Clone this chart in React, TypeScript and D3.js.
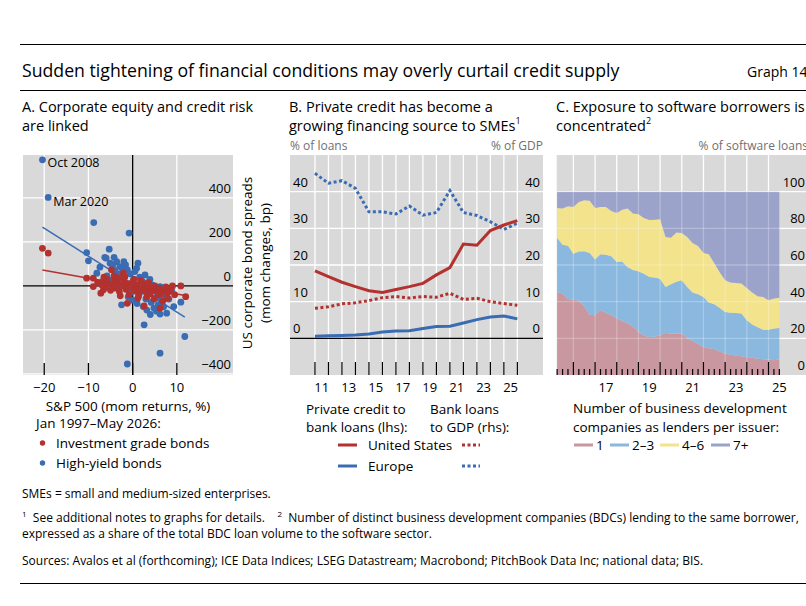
import React from 'react';
import * as d3 from 'd3';

const FONT = "'Open Sans', 'Noto Sans', sans-serif";
const RED = '#b3312e';
const BLUE = '#3a6cb4';
const BG = '#d9d9d9';

// ---- Panel A: S&P 500 returns (%) vs spread changes (bp)
const hyPoints: [number, number][] = [
  [-20.4, 573], [-19.1, 402], [-8.8, 288], [-0.8, 240], [11.8, -230], [6.2, -306], [-1.2, -355],
  [2.6, -177], [10.9, -74], [-10.4, 151], [-10.0, 114], [-5.3, 167], [-6.3, 130], [-6.0, 126],
  [-5.1, 103], [-2.9, 88], [0.9, 80], [1.2, 103], [-1.2, 73], [-7.4, 85], [-8.1, 58], [-2.5, -86],
  [2.4, -94], [7.7, -124], [6.2, -128], [4.8, -101], [9.3, -94], [7.2, -48], [8.8, -21], [6.2, -3],
  [-4.5, 95], [-4.0, 70], [-3.6, 110], [-3.0, 55], [-2.2, 75], [-1.8, 40], [-0.6, 55], [0.2, 30],
  [0.5, 65], [1.6, 40], [2.2, 20], [2.8, 50], [3.4, 10], [3.9, 30], [-5.8, 45], [-4.9, 25],
  [-3.8, 15], [-2.6, 5], [-1.4, -15], [-0.4, -30], [0.6, -10], [1.4, -45], [2.0, -25], [3.0, -60],
  [3.6, -35], [4.2, -75], [4.6, -20], [5.2, -55], [5.8, -85], [6.6, -65], [7.0, -95], [8.2, -60],
  [0.0, -65], [-1.0, -50], [1.0, -80], [3.2, -110], [4.0, -130], [5.4, -115], [-3.4, -10],
  [-6.8, 20], [-2.0, 110], [4.4, 5], [5.6, -30], [2.6, -5], [-0.2, 10], [-4.2, 130], [-1.6, 95],
];
const igPoints: [number, number][] = [
  [-20.4, 171], [-19.1, 149], [10.9, 0], [12.0, -49], [-1.2, -79], [6.2, -101], [-7.2, -33],
  [-8.9, -3], [-10.4, 35], [-8.9, 35], [-6.6, -18], [-4.8, 73], [-2.1, 58], [2.6, -91], [7.9, -56],
  [9.0, 0], [5.8, -41], [0.9, -26], [-4.0, 27], [-6.3, 20], [-7.9, 15], [-7.0, 5], [-6.0, -5],
  [-5.5, 10], [-5.0, -20], [-4.5, 5], [-4.0, -10], [-3.5, 15], [-3.0, -25], [-2.5, 0], [-2.0, 20],
  [-1.5, -15], [-1.0, 10], [-0.5, -5], [0.0, 15], [0.5, -20], [1.0, 5], [1.5, -30], [2.0, -10],
  [2.5, 10], [3.0, -25], [3.5, -5], [4.0, -35], [4.5, -15], [5.0, 0], [5.5, -25], [6.0, -10],
  [6.5, -35], [7.0, -20], [7.5, -5], [8.0, -30], [8.5, -15], [-3.2, 35], [-1.8, 40], [0.3, 30],
  [1.8, 25], [3.6, 15], [-5.8, 30], [-0.8, -40], [1.2, -55], [3.2, -50], [4.8, -60], [6.8, -70],
  [-2.8, -45], [9.5, -40], [-6.5, 40], [-4.2, 45],
];
// fitted lines: intercept, slope, x range
const hyFit = [8, -12.7, -20.4, 11.8];
const igFit = [-1, -3.6, -20.4, 12.2];
const aTicksX = [-20, -10, 0, 10];
const aTicksY = [-400, -200, 0, 200, 400];

// ---- Panel B
const bYears = [2011, 2012, 2013, 2014, 2015, 2016, 2017, 2018, 2019, 2020, 2021, 2022, 2023, 2024, 2025, 2026];
const usPrivate = [18.4, 16.8, 15.3, 14.1, 13.0, 12.5, 13.3, 14.1, 15.0, 17.3, 19.3, 25.7, 25.4, 29.4, 30.9, 32.1];
const euPrivate = [0.6, 0.7, 0.8, 0.9, 1.2, 1.7, 2.0, 2.1, 2.7, 3.2, 3.3, 4.2, 5.1, 5.8, 6.1, 5.3];
const usBankGdp = [8.2, 8.6, 9.4, 9.7, 10.3, 11.1, 11.4, 11.0, 11.4, 11.2, 12.3, 10.6, 10.9, 10.0, 9.5, 9.0];
const euBankGdp = [45.0, 42.3, 43.0, 40.9, 34.5, 34.5, 33.9, 36.1, 33.6, 34.3, 40.3, 34.3, 33.5, 31.8, 29.7, 31.4];
const bTicksY = [0, 10, 20, 30, 40];
const bLabelYears = [2011, 2013, 2015, 2017, 2019, 2021, 2023, 2025];

// ---- Panel C (quarterly, % of software loans)
const cQuarters = [
  '2015Q2', '2015Q3', '2015Q4', '2016Q1', '2016Q2', '2016Q3', '2016Q4', '2017Q1', '2017Q2', '2017Q3',
  '2017Q4', '2018Q1', '2018Q2', '2018Q3', '2018Q4', '2019Q1', '2019Q2', '2019Q3', '2019Q4', '2020Q1',
  '2020Q2', '2020Q3', '2020Q4', '2021Q1', '2021Q2', '2021Q3', '2021Q4', '2022Q1', '2022Q2', '2022Q3',
  '2022Q4', '2023Q1', '2023Q2', '2023Q3', '2023Q4', '2024Q1', '2024Q2', '2024Q3', '2024Q4', '2025Q1',
  '2025Q2', '2025Q3',
];
const lenders1 = [45.3, 44.4, 41.5, 41.0, 40.5, 37.5, 32.8, 32.6, 35.3, 34.0, 32.6, 31.0, 29.5, 28.2, 26.5, 23.5, 21.5, 20.7, 20.9, 21.7, 22.9, 22.7, 22.6, 22.6, 20.0, 18.5, 17.0, 15.3, 14.6, 14.2, 12.8, 11.7, 11.0, 10.7, 10.2, 9.8, 9.4, 8.9, 8.6, 8.4, 8.0, 8.4];
const lenders23 = [29.6, 26.6, 29.0, 25.2, 26.8, 30.0, 33.7, 30.5, 30.5, 31.6, 32.2, 30.6, 32.4, 30.6, 30.8, 33.1, 33.7, 32.8, 32.3, 30.8, 25.1, 26.8, 28.2, 29.1, 28.0, 26.5, 27.0, 27.3, 24.9, 24.4, 23.7, 22.7, 22.9, 23.1, 23.3, 20.0, 18.2, 17.1, 16.1, 16.3, 17.3, 17.2];
const lenders46 = [16.2, 19.8, 21.5, 25.5, 27.1, 27.8, 28.5, 28.0, 25.9, 26.0, 24.6, 26.8, 28.2, 32.0, 30.8, 31.1, 30.4, 31.0, 31.5, 32.5, 27.3, 25.4, 26.9, 25.8, 27.3, 27.0, 26.4, 24.0, 26.3, 22.4, 19.5, 17.3, 16.5, 16.4, 16.4, 17.7, 17.4, 16.9, 17.9, 16.1, 16.4, 16.6];
const lenders7 = [8.9, 9.2, 8.0, 8.3, 5.6, 4.7, 5.0, 8.9, 8.3, 8.4, 10.6, 11.6, 9.9, 9.2, 11.9, 12.3, 14.4, 15.5, 15.3, 15.0, 24.7, 25.1, 22.3, 22.5, 24.7, 28.0, 29.6, 33.4, 34.2, 39.0, 44.0, 48.3, 49.6, 49.8, 50.1, 52.5, 55.0, 57.1, 57.4, 59.2, 58.3, 57.8];
const cKeys = ['1', '2–3', '4–6', '7+'];
const cColors = ['#c8979f', '#8bb8de', '#f2e38c', '#9ca3cb'];
const cTicksY = [0, 20, 40, 60, 80, 100];
const cGridYears = [2016, 2017, 2018, 2019, 2020, 2021, 2022, 2023, 2024, 2025];
const cLabelYears = [2017, 2019, 2021, 2023, 2025];

const T = (props: any) => (
  <text fontFamily={FONT} dominantBaseline="central" fill="#000" style={{ whiteSpace: 'pre' }} {...props} />
);

export default function App() {
  // Panel A scales
  const xA = d3.scaleLinear().domain([-24.8, 22.7]).range([23, 233]);
  const yA = d3.scaleLinear().domain([-405, 595]).range([375, 155]);
  // Panel B scales
  const xB = d3.scaleLinear().domain([2009.15, 2027.9]).range([290, 543]);
  const yB = d3.scaleLinear().domain([-10, 50]).range([375, 155]);
  const lineB = (vals: number[]) =>
    d3.line<number>().x((_, i) => xB(bYears[i])).y((d) => yB(d))(vals) || '';
  // Panel C scales
  const qTime = (q: string) => +q.slice(0, 4) + (+q.slice(5) - 1) * 0.25;
  const xC = d3.scaleLinear().domain([2015.23, 2026.73]).range([556.7, 806]);
  const yC = d3.scaleLinear().domain([0, 120]).range([375, 155]);
  const rows = cQuarters.map((q, i) => ({
    t: qTime(q), '1': lenders1[i], '2–3': lenders23[i], '4–6': lenders46[i], '7+': lenders7[i],
  }));
  const stacked = d3.stack<any>().keys(cKeys)(rows);
  const areaC = d3.area<any>().x((d) => xC(d.data.t)).y0((d) => yC(d[0])).y1((d) => yC(d[1]));
  const cEnd = xC(qTime(cQuarters[cQuarters.length - 1]));
  const cQuarterTicks = cQuarters.map(qTime);

  const fitLine = (f: number[]) => (
    [f[2], f[3]].map((v) => [xA(v), yA(f[0] + f[1] * v)])
  );
  const hyL = fitLine(hyFit);
  const igL = fitLine(igFit);

  return (
    <svg width={806} height={606} style={{ position: 'absolute', left: 0, top: 0, background: '#fff' }}>
      {/* header */}
      <line x1={20} x2={806} y1={44.5} y2={44.5} stroke="#000" strokeWidth={1} />
      <T x={22} y={70} fontSize={17.7}>Sudden tightening of financial conditions may overly curtail credit supply</T>
      <T x={747} y={71} fontSize={14}>Graph 14</T>
      <line x1={20} x2={806} y1={90.5} y2={90.5} stroke="#000" strokeWidth={1} />

      {/* Panel titles */}
      <T x={22} y={106} fontSize={14.5}>A. Corporate equity and credit risk</T>
      <T x={22} y={125} fontSize={14.5}>are linked</T>
      <T x={289} y={106} fontSize={14.5}>B. Private credit has become a</T>
      <T x={289} y={125} fontSize={14.5}>growing financing source to SMEs<tspan fontSize={9} dy={-5}>1</tspan></T>
      <T x={556} y={106} fontSize={14.5}>C. Exposure to software borrowers is</T>
      <T x={556} y={125} fontSize={14.5}>concentrated<tspan fontSize={9} dy={-5}>2</tspan></T>

      {/* ===== Panel A ===== */}
      <rect x={23} y={155} width={210} height={220} fill={BG} />
      {aTicksY.filter((v) => v !== 0).map((v) => (
        <line key={v} x1={23} x2={233} y1={yA(v)} y2={yA(v)} stroke="#fff" strokeWidth={1.3} />
      ))}
      {aTicksX.filter((v) => v !== 0).map((v) => (
        <line key={v} x1={xA(v)} x2={xA(v)} y1={155} y2={375} stroke="#fff" strokeWidth={1.3} />
      ))}
      {aTicksY.map((v) => (
        <T key={v} x={231} y={yA(v) - 10} fontSize={13}>{v < 0 ? `−${-v}` : v}</T>
      )).map((el) => React.cloneElement(el, { textAnchor: 'end' }))}
      <line x1={23} x2={233} y1={yA(0)} y2={yA(0)} stroke="#000" strokeWidth={1.3} />
      <line x1={xA(0)} x2={xA(0)} y1={155} y2={375} stroke="#000" strokeWidth={1.3} />
      {aTicksX.map((v) => (
        <line key={v} x1={xA(v)} x2={xA(v)} y1={363} y2={375} stroke="#000" strokeWidth={1.3} />
      ))}
      {hyPoints.map((p, i) => (
        <circle key={i} cx={xA(p[0])} cy={yA(p[1])} r={3.4} fill={BLUE} />
      ))}
      <line x1={hyL[0][0]} y1={hyL[0][1]} x2={hyL[1][0]} y2={hyL[1][1]} stroke={BLUE} strokeWidth={1.5} />
      {igPoints.map((p, i) => (
        <circle key={i} cx={xA(p[0])} cy={yA(p[1])} r={3.4} fill={RED} />
      ))}
      <line x1={igL[0][0]} y1={igL[0][1]} x2={igL[1][0]} y2={igL[1][1]} stroke={RED} strokeWidth={1.5} />
      <T x={xA(-20.4) + 5} y={yA(573) + 3} fontSize={12.5}>Oct 2008</T>
      <T x={xA(-19.1) + 5} y={yA(402) + 4} fontSize={12.5}>Mar 2020</T>
      {aTicksX.map((v) => (
        <T key={v} x={xA(v)} y={387} fontSize={13} textAnchor="middle">{v < 0 ? `−${-v}` : v}</T>
      ))}
      <T x={128} y={406} fontSize={13.5} textAnchor="middle">S&amp;P 500 (mom returns, %)</T>
      <g transform="translate(247,263) rotate(-90)">
        <T x={0} y={0} fontSize={13.5} textAnchor="middle">US corporate bond spreads</T>
        <T x={0} y={18} fontSize={13.5} textAnchor="middle">(mom changes, bp)</T>
      </g>
      <T x={36} y={423} fontSize={13.5}>Jan 1997–May 2026:</T>
      <circle cx={42.5} cy={443} r={2.7} fill={RED} />
      <T x={56} y={443} fontSize={13.5}>Investment grade bonds</T>
      <circle cx={42.5} cy={463} r={2.7} fill={BLUE} />
      <T x={56} y={463} fontSize={13.5}>High-yield bonds</T>

      {/* ===== Panel B ===== */}
      <rect x={290} y={155} width={253} height={220} fill={BG} />
      {bTicksY.filter((v) => v !== 0).map((v) => (
        <line key={v} x1={290} x2={543} y1={yB(v)} y2={yB(v)} stroke="#fff" strokeWidth={1.3} />
      ))}
      {bYears.map((yr) => (
        <line key={yr} x1={xB(yr)} x2={xB(yr)} y1={155} y2={375} stroke="#fff" strokeWidth={1.3} />
      ))}
      {bYears.map((yr) => (
        <line key={yr} x1={xB(yr)} x2={xB(yr)} y1={362} y2={375} stroke="#000" strokeWidth={1.2} />
      ))}
      <line x1={290} x2={543} y1={yB(0)} y2={yB(0)} stroke="#000" strokeWidth={1.3} />
      {bTicksY.map((v) => (
        <g key={v}>
          <T x={293} y={yB(v) - 10} fontSize={13}>{v}</T>
          <T x={540} y={yB(v) - 10} fontSize={13} textAnchor="end">{v}</T>
        </g>
      ))}
      <T x={290} y={145} fontSize={12} fill="#707070">% of loans</T>
      <T x={543} y={145} fontSize={12} fill="#707070" textAnchor="end">% of GDP</T>
      <path d={lineB(euBankGdp)} fill="none" stroke={BLUE} strokeWidth={3} strokeDasharray="3,2.5" />
      <path d={lineB(usBankGdp)} fill="none" stroke={RED} strokeWidth={3} strokeDasharray="3,2.5" />
      <path d={lineB(euPrivate)} fill="none" stroke={BLUE} strokeWidth={3} />
      <path d={lineB(usPrivate)} fill="none" stroke={RED} strokeWidth={3} />
      {bLabelYears.map((yr) => (
        <T key={yr} x={xB(yr + 0.5)} y={387} fontSize={13} textAnchor="middle">{String(yr).slice(2)}</T>
      ))}
      <T x={306} y={409} fontSize={13.5}>Private credit to</T>
      <T x={306} y={427} fontSize={13.5}>bank loans (lhs):</T>
      <T x={430} y={409} fontSize={13.5}>Bank loans</T>
      <T x={430} y={427} fontSize={13.5}>to GDP (rhs):</T>
      <line x1={338} x2={357} y1={445} y2={445} stroke={RED} strokeWidth={3} />
      <T x={368} y={445} fontSize={13.5}>United States</T>
      <line x1={462} x2={480} y1={445} y2={445} stroke={RED} strokeWidth={3} strokeDasharray="3,2.5" />
      <line x1={338} x2={357} y1={466} y2={466} stroke={BLUE} strokeWidth={3} />
      <T x={368} y={466} fontSize={13.5}>Europe</T>
      <line x1={462} x2={480} y1={466} y2={466} stroke={BLUE} strokeWidth={3} strokeDasharray="3,2.5" />

      {/* ===== Panel C ===== */}
      <rect x={556.7} y={155} width={260} height={220} fill={BG} />
      {cTicksY.filter((v) => v !== 0).map((v) => (
        <line key={v} x1={556.7} x2={806} y1={yC(v)} y2={yC(v)} stroke="#fff" strokeWidth={1.3} />
      ))}
      {cGridYears.map((yr) => (
        <line key={yr} x1={xC(yr)} x2={xC(yr)} y1={155} y2={375} stroke="#fff" strokeWidth={1.3} />
      ))}
      {stacked.map((s, i) => (
        <path key={s.key} d={areaC(s) || ''} fill={cColors[i]} />
      ))}
      {cTicksY.filter((v) => v !== 0).map((v) => (
        <line key={v} x1={556.7} x2={cEnd} y1={yC(v)} y2={yC(v)} stroke="#fff" strokeWidth={1.3} opacity={0.25} />
      ))}
      {cGridYears.map((yr) => (
        <line key={yr} x1={xC(yr)} x2={xC(yr)} y1={yC(100)} y2={375} stroke="#fff" strokeWidth={1.3} opacity={0.25} />
      ))}
      {cQuarterTicks.map((t) => (
        <line key={t} x1={xC(t)} x2={xC(t)} y1={Number.isInteger(t) ? 362 : 369} y2={375} stroke="#000" strokeWidth={1.2} />
      ))}
      {cTicksY.map((v) => (
        <T key={v} x={805} y={yC(v) - 10} fontSize={13} textAnchor="end">{v}</T>
      ))}
      <T x={808} y={145} fontSize={12} fill="#707070" textAnchor="end">% of software loans</T>
      {cLabelYears.map((yr) => (
        <T key={yr} x={xC(yr + 0.5)} y={387} fontSize={13} textAnchor="middle">{String(yr).slice(2)}</T>
      ))}
      <T x={573} y={408} fontSize={13.5}>Number of business development</T>
      <T x={573} y={427} fontSize={13.5}>companies as lenders per issuer:</T>
      {cKeys.map((k, i) => {
        const lx = [574, 610, 660, 711][i];
        return (
          <g key={k}>
            <line x1={lx} x2={lx + 19} y1={445} y2={445} stroke={cColors[i]} strokeWidth={3} />
            <T x={lx + 22} y={445} fontSize={13.5}>{k}</T>
          </g>
        );
      })}

      {/* footnotes */}
      <T x={22} y={493} fontSize={12}>SMEs = small and medium-sized enterprises.</T>
      <T x={22} y={517} fontSize={12}>
        <tspan fontSize={8} dy={-4}>1</tspan>
        <tspan dy={4}>{'  See additional notes to graphs for details.    '}</tspan>
        <tspan fontSize={8} dy={-4}>2</tspan>
        <tspan dy={4}>{'  Number of distinct business development companies (BDCs) lending to the same borrower,'}</tspan>
      </T>
      <T x={22} y={533} fontSize={12}>expressed as a share of the total BDC loan volume to the software sector.</T>
      <T x={22} y={560} fontSize={12}>Sources: Avalos et al (forthcoming); ICE Data Indices; LSEG Datastream; Macrobond; PitchBook Data Inc; national data; BIS.</T>
      <line x1={20} x2={806} y1={583.5} y2={583.5} stroke="#000" strokeWidth={1} />
    </svg>
  );
}
